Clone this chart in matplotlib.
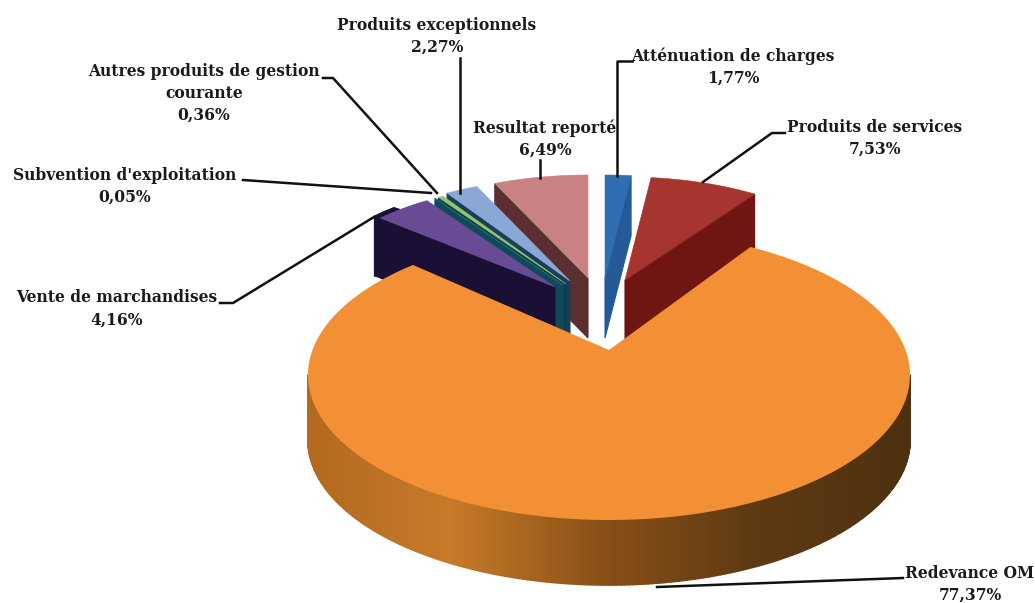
import numpy as np
import matplotlib
matplotlib.use("Agg")
import matplotlib.pyplot as plt
from matplotlib.collections import PolyCollection

labels = ["Atténuation de charges", "Produits de services", "Redevance OM",
          "Vente de marchandises", "Subvention d'exploitation",
          "Autres produits de gestion\ncourante", "Produits exceptionnels",
          "Resultat reporté"]
values = [1.77, 7.53, 77.37, 4.16, 0.05, 0.36, 2.27, 6.49]

top_colors = ["#2f6eb0", "#a7352f", "#f39035", "#694a94", "#1f6a70", "#93c66c", "#8ba7d6", "#c98184"]
wall_colors = ["#235a97", "#6f1512", "#000000", "#1a1036", "#0f4a5c", "#123f4e", "#1b3d5c", "#5b2f30"]

# slice tip in pixels, the exploded slices are seen smaller than the big one
apex_x = [605, 625, 609, 555, 563, 566, 570, 588]
apex_y = [278, 280, 350, 287, 285, 284, 281, 278]
back_rx, back_ry = 235, 103
big_cx, big_cy, big_rx, big_ry = 609, 375, 301, 145
depth = 60
big_depth = 65

# where each label goes: centre x, first line y
text_x = [733, 875, 970, 117, 125, 204, 437, 545]
text_y = [56, 127, 573, 298, 175, 71, 25, 128]
leaders = [
    [(617, 176), (617, 61), (632, 61)],
    [(703, 182), (772, 133), (785, 133)],
    [(657, 587), (903, 578)],
    [(374, 217), (233, 303), (220, 303)],
    [(431, 193), (243, 180)],
    [(437, 193), (333, 78), (323, 78)],
    [(460, 193), (460, 58)],
    [(540, 178), (540, 160)],
]

wall_x = [308, 450, 600, 750, 910]
wall_r = [178, 199, 138, 94, 78]
wall_g = [106, 122, 80, 58, 48]
wall_b = [32, 40, 24, 18, 15]

edges = np.radians(np.cumsum([0] + values) * 3.6)


def rim_point(theta, ax0, ay0, cx, cy, rx, ry):
    # go from the tip along the slice direction until the ellipse is hit
    dx = rx * np.sin(theta)
    dy = -ry * np.cos(theta)
    ox = (ax0 - cx) / rx
    oy = (ay0 - cy) / ry
    a = (dx / rx) ** 2 + (dy / ry) ** 2
    b = 2 * (ox * dx / rx + oy * dy / ry)
    c = ox ** 2 + oy ** 2 - 1
    t = (-b + np.sqrt(b ** 2 - 4 * a * c)) / (2 * a)
    return ax0 + t * dx, ay0 + t * dy


fig = plt.figure(figsize=(10.35, 6.03), dpi=100)
ax = fig.add_axes([0, 0, 1, 1])
ax.set_xlim(0, 1035)
ax.set_ylim(603, 0)
ax.axis("off")

# back to front, the big slice comes last
order = [7, 6, 5, 4, 3, 0, 1]
for i in order:
    th0, th1 = edges[i], edges[i + 1]
    x0, y0 = apex_x[i], apex_y[i]
    # the radial wall that faces the viewer
    th_wall = th1 if th1 < np.pi else th0
    wx, wy = rim_point(th_wall, x0, y0, x0, y0, back_rx, back_ry)
    if i == 3:
        # the far left slice shows a bit of its outer side too
        th = np.linspace(th0, th0 + 0.45 * (th1 - th0), 12)
        sx, sy = rim_point(th, x0, y0, x0, y0, back_rx, back_ry)
        ax.fill(np.r_[sx, (sx - 6)[::-1], wx - 6, wx + 2], np.r_[sy, (sy - 2)[::-1], wy + depth - 2, wy + depth],
                color=wall_colors[i], lw=0.8, zorder=2)
    ax.fill([x0, wx, wx, x0], [y0, wy, wy + depth, y0 + depth], color=wall_colors[i], lw=0.8, zorder=2)
    th = np.linspace(th0, th1, 40)
    rx_pts, ry_pts = rim_point(th, x0, y0, x0, y0, back_rx, back_ry)
    ax.fill(np.r_[x0, rx_pts], np.r_[y0, ry_pts], color=top_colors[i],
            lw=0.4, zorder=2)

# side of the big slice, shaded along x
phi = np.radians(np.linspace(90, 270, 241))
px = big_cx + big_rx * np.sin(phi)
py = big_cy - big_ry * np.cos(phi)
quads = []
cols = []
for k in range(len(phi) - 1):
    quads.append([(px[k], py[k]), (px[k + 1], py[k + 1]),
                  (px[k + 1], py[k + 1] + big_depth), (px[k], py[k] + big_depth)])
    xm = (px[k] + px[k + 1]) / 2
    cols.append((np.interp(xm, wall_x, wall_r) / 255, np.interp(xm, wall_x, wall_g) / 255,
                 np.interp(xm, wall_x, wall_b) / 255))
ax.add_collection(PolyCollection(quads, facecolors=cols, edgecolors=cols, linewidths=1.2, zorder=3))

th = np.linspace(edges[2], edges[3], 300)
rx_pts, ry_pts = rim_point(th, apex_x[2], apex_y[2], big_cx, big_cy, big_rx, big_ry)
ax.fill(np.r_[apex_x[2], rx_pts], np.r_[apex_y[2], ry_pts], color=top_colors[2], lw=0, zorder=4)

# leader lines and labels
for line in leaders:
    ax.plot([p[0] for p in line], [p[1] for p in line], color="#111111", lw=1.8, zorder=5)

line_h = 22
for i in range(len(labels)):
    pct = f"{values[i]:.2f}%".replace(".", ",")
    rows = labels[i].split("\n") + [pct]
    for j, row in enumerate(rows):
        ax.text(text_x[i], text_y[i] + j * line_h, row, ha="center", va="center",
                family="DejaVu Serif", weight="bold", fontsize=11.2, color="#1a1a1a", zorder=6)

fig.savefig("out.png", dpi=100, facecolor="white")
